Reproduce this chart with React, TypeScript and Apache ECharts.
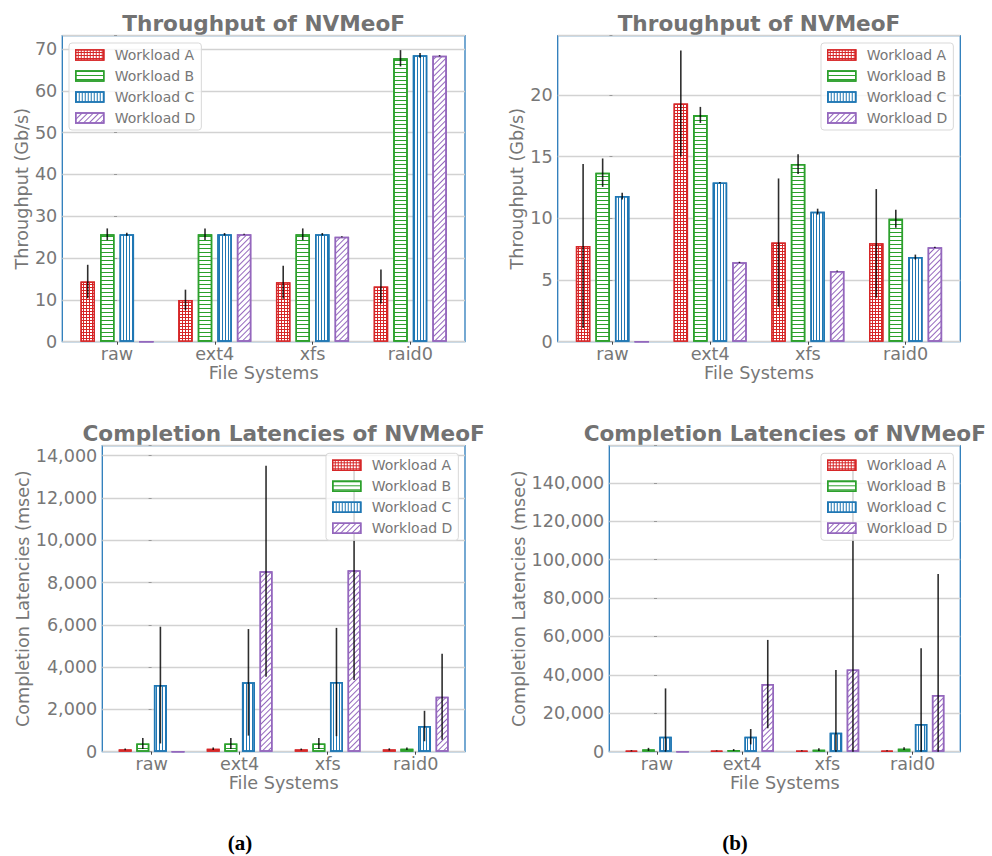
import React, { useEffect, useRef } from 'react';
import * as echarts from 'echarts';

const categories = ['raw', 'ext4', 'xfs', 'raid0'];
const workloads = ['Workload A', 'Workload B', 'Workload C', 'Workload D'];
const barOffsets = [-0.3, -0.1, 0.1, 0.3];
const colors = ['#d62728', '#2ca02c', '#1f77b4', '#9467bd'];

// rows: Workload A..D ; columns: raw, ext4, xfs, raid0
const tputLeftMean = [
  [14.4, 10.0, 14.2, 13.2],
  [25.7, 25.7, 25.7, 67.8],
  [25.7, 25.7, 25.7, 68.5],
  [0, 25.7, 25.1, 68.4],
];
const tputLeftErr = [
  [4.0, 2.45, 3.95, 4.05],
  [1.4, 1.4, 1.4, 1.95],
  [0.35, 0.3, 0.3, 0.55],
  [0, 0.1, 0.1, 0.15],
];
const tputRightMean = [
  [7.76, 19.3, 8.03, 7.97],
  [13.7, 18.38, 14.4, 9.97],
  [11.8, 12.9, 10.54, 6.86],
  [0, 6.43, 5.73, 7.65],
];
const tputRightErr = [
  [6.65, 4.3, 5.2, 4.4],
  [1.15, 0.65, 0.8, 0.73],
  [0.27, 0.05, 0.24, 0.2],
  [0, 0.05, 0.05, 0.05],
];
const latLeftMean = [
  [110, 140, 110, 110],
  [390, 390, 390, 140],
  [3150, 3280, 3295, 1214],
  [0, 8530, 8575, 2600],
];
const latLeftErr = [
  [40, 60, 40, 50],
  [260, 260, 260, 60],
  [2760, 2520, 2560, 720],
  [0, 4990, 5190, 2030],
];
const latRightMean = [
  [500, 450, 480, 500],
  [1200, 870, 1040, 1560],
  [7800, 7800, 9890, 14400],
  [0, 35200, 42850, 29500],
];
const latRightErr = [
  [300, 200, 300, 300],
  [800, 500, 700, 700],
  [25150, 4000, 32600, 39400],
  [0, 23000, 107000, 63000],
];

const titles = ['Throughput of NVMeoF', 'Throughput of NVMeoF', 'Completion Latencies of NVMeoF', 'Completion Latencies of NVMeoF'];
const yNames = ['Throughput (Gb/s)', 'Throughput (Gb/s)', 'Completion Latencies (msec)', 'Completion Latencies (msec)'];
const yMaxes = [73.2, 24.8, 14470, 159300];
const yTickSteps = [10, 5, 2000, 20000];
const captions = ['(a)', '(b)'];

const FONT = 'DejaVu Sans';
const GRAY = '#777777';
const SPINE = '#2b7bba';

const panels = [
  { mean: tputLeftMean, err: tputLeftErr, left: 62.3, top: 35.7, width: 402.7, height: 306, nameGap: 30, barW: 14.5, comma: false, lgLeft: 69, lgTop: 43 },
  { mean: tputRightMean, err: tputRightErr, left: 557.7, top: 35.7, width: 402.6, height: 306, nameGap: 29, barW: 14.5, comma: false, lgLeft: 821, lgTop: 43 },
  { mean: latLeftMean, err: latLeftErr, left: 102.3, top: 445.7, width: 362.7, height: 306, nameGap: 70, barW: 13, comma: true, lgLeft: 326, lgTop: 453.3 },
  { mean: latRightMean, err: latRightErr, left: 609.3, top: 445.7, width: 351, height: 306, nameGap: 81, barW: 12.5, comma: true, lgLeft: 821, lgTop: 453.3 },
];

function decalFor(w: number) {
  if (w === 0) return { symbol: 'rect', symbolSize: 1, color: '#ffffff', dashArrayX: [2, 1], dashArrayY: [2, 1], rotation: 0 };
  if (w === 1) return { symbol: 'rect', symbolSize: 1, color: colors[1], dashArrayX: [1, 0], dashArrayY: [1, 3], rotation: 0 };
  if (w === 2) return { symbol: 'rect', symbolSize: 1, color: colors[2], dashArrayX: [1, 2], dashArrayY: [1, 0], rotation: 0 };
  return { symbol: 'rect', symbolSize: 1, color: colors[3], dashArrayX: [1, 0], dashArrayY: [1, 2.5], rotation: -Math.PI / 4 };
}

export default function App() {
  const ref = useRef<HTMLDivElement>(null);
  useEffect(() => {
    if (!ref.current) return;
    const chart = echarts.init(ref.current, undefined, { renderer: 'svg' });
    const grid: any[] = [];
    const xAxis: any[] = [];
    const yAxis: any[] = [];
    const series: any[] = [];
    const legend: any[] = [];
    const graphic: any[] = [];

    panels.forEach((p, pi) => {
      grid.push({ left: p.left, top: p.top, width: p.width, height: p.height, show: true, borderColor: SPINE, borderWidth: 1.3, backgroundColor: 'transparent' });
      xAxis.push({
        type: 'value', gridIndex: pi, min: -0.56, max: 3.56,
        axisLine: { show: false },
        splitLine: { show: false },
        axisTick: { show: true, customValues: [0, 1, 2, 3], length: 3, lineStyle: { color: '#444', width: 1 } },
        axisLabel: { customValues: [0, 1, 2, 3], formatter: (v: number) => categories[Math.round(v)] ?? '', margin: 3, fontFamily: FONT, fontSize: 17.6, color: GRAY },
        name: 'File Systems', nameLocation: 'middle', nameGap: 22,
        nameTextStyle: { fontFamily: FONT, fontSize: 17.6, color: GRAY },
      });
      const step = yTickSteps[pi];
      yAxis.push({
        type: 'value', gridIndex: pi, min: 0, max: yMaxes[pi], interval: step,
        axisLine: { show: false },
        axisTick: { show: true, length: 3, lineStyle: { color: '#999', width: 1 } },
        splitLine: { show: true, lineStyle: { color: '#d2d2d2', width: 1.3 } },
        axisLabel: {
          margin: 5, fontFamily: FONT, fontSize: 17.6, color: GRAY,
          formatter: (v: number) => {
            if (Math.abs(v / step - Math.round(v / step)) > 1e-6) return '';
            return p.comma ? v.toLocaleString('en-US') : String(v);
          },
        },
        name: yNames[pi], nameLocation: 'middle', nameGap: p.nameGap,
        nameTextStyle: { fontFamily: FONT, fontSize: 17.6, color: GRAY },
      });
      workloads.forEach((wn, w) => {
        series.push({
          type: 'bar', name: wn, xAxisIndex: pi, yAxisIndex: pi,
          data: categories.map((_, c) => [c + barOffsets[w], p.mean[w][c]]),
          barWidth: p.barW, barGap: '-100%',
          itemStyle: {
            color: w === 0 ? colors[0] : '#ffffff',
            borderColor: colors[w], borderWidth: 1.5,
            decal: decalFor(w),
          },
          emphasis: { disabled: true },
          silent: true,
        });
      });
      const errData: number[][] = [];
      workloads.forEach((_, w) => {
        categories.forEach((_, c) => {
          errData.push([c + barOffsets[w], p.mean[w][c], p.err[w][c]]);
        });
      });
      series.push({
        type: 'custom', name: 'err' + pi, xAxisIndex: pi, yAxisIndex: pi, silent: true,
        data: errData,
        renderItem: (params: any, api: any) => {
          const x = api.value(0), y = api.value(1), e = api.value(2);
          if (!(e > 0)) return null;
          const cs = params.coordSys;
          const a = api.coord([x, y + e]);
          const b = api.coord([x, y - e]);
          const y1 = Math.max(cs.y, Math.min(cs.y + cs.height, a[1]));
          const y2 = Math.max(cs.y, Math.min(cs.y + cs.height, b[1]));
          return { type: 'line', shape: { x1: a[0], y1, x2: a[0], y2 }, style: { stroke: 'rgba(0,0,0,0.82)', lineWidth: 1.6 } };
        },
        z: 3,
      });
      legend.push({
        data: workloads, orient: 'vertical', left: p.lgLeft, top: p.lgTop,
        icon: 'rect', itemWidth: 28, itemHeight: 10, itemGap: 5,
        padding: [4, 6, 4, 6], selectedMode: false,
        backgroundColor: 'rgba(255,255,255,0.8)', borderColor: '#d9d9d9', borderWidth: 1, borderRadius: 3,
        itemStyle: { borderWidth: 1.5 },
        textStyle: { fontFamily: FONT, fontSize: 14, color: GRAY, lineHeight: 16, padding: [0, 0, 0, 6] },
      });
      graphic.push({
        type: 'text', x: p.left + p.width / 2, y: p.top - 12.5,
        style: { text: titles[pi], fill: '#727272', font: `bold 21.6px "${FONT}"`, textAlign: 'center', textVerticalAlign: 'middle', align: 'center', verticalAlign: 'middle' },
      });
    });
    graphic.push({
      type: 'text', x: 240, y: 843,
      style: { text: captions[0], fill: '#000', font: 'bold 21px "Liberation Serif"', textAlign: 'center', textVerticalAlign: 'middle', align: 'center', verticalAlign: 'middle' },
    });
    graphic.push({
      type: 'text', x: 735, y: 843,
      style: { text: captions[1], fill: '#000', font: 'bold 21px "Liberation Serif"', textAlign: 'center', textVerticalAlign: 'middle', align: 'center', verticalAlign: 'middle' },
    });

    chart.setOption({
      animation: false,
      backgroundColor: '#ffffff',
      textStyle: { fontFamily: FONT },
      grid, xAxis, yAxis, series, legend, graphic,
    });
    return () => chart.dispose();
  }, []);
  return <div ref={ref} style={{ position: 'absolute', left: 0, top: 0, width: 992, height: 856 }} />;
}
